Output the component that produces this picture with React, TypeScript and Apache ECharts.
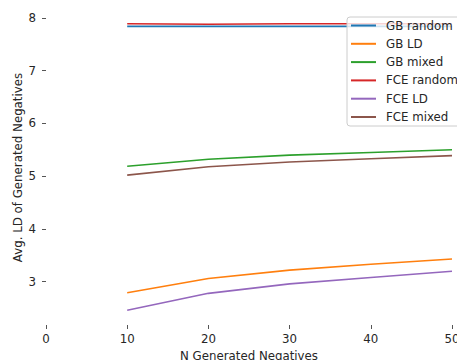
import React, { useEffect, useRef } from "react";
import * as echarts from "echarts";

const xValues = [10, 20, 30, 40, 50];
const gbRandom = [7.84, 7.84, 7.84, 7.84, 7.84];
const gbLD = [2.79, 3.06, 3.22, 3.33, 3.43];
const gbMixed = [5.19, 5.32, 5.40, 5.45, 5.50];
const fceRandom = [7.89, 7.88, 7.89, 7.89, 7.89];
const fceLD = [2.46, 2.78, 2.96, 3.08, 3.20];
const fceMixed = [5.02, 5.18, 5.27, 5.33, 5.39];
const yTicks = [3, 4, 5, 6, 7, 8];

const seriesDefs = [
  { name: "GB random", data: gbRandom, color: "#1f77b4" },
  { name: "GB LD", data: gbLD, color: "#ff7f0e" },
  { name: "GB mixed", data: gbMixed, color: "#2ca02c" },
  { name: "FCE random", data: fceRandom, color: "#d62728" },
  { name: "FCE LD", data: fceLD, color: "#9467bd" },
  { name: "FCE mixed", data: fceMixed, color: "#8c564b" },
];

const FONT = "DejaVu Sans";
const FS = 11.8;

export default function App() {
  const ref = useRef<HTMLDivElement>(null);
  useEffect(() => {
    const chart = echarts.init(ref.current!, null, { renderer: "svg" });
    chart.setOption({
      animation: false,
      backgroundColor: "#ffffff",
      textStyle: { fontFamily: FONT },
      grid: { left: 46, right: 5, top: 10, bottom: 35, containLabel: false, outerBoundsMode: "none" },
      xAxis: {
        type: "value",
        min: 0,
        max: 50,
        interval: 10,
        name: "N Generated Negatives",
        nameLocation: "middle",
        nameGap: 25,
        nameMoveOverlap: false,
        nameTextStyle: { fontFamily: FONT, fontSize: FS, color: "#262626" },
        axisLine: { show: false },
        axisTick: { show: true, length: 4, lineStyle: { color: "#555", width: 1 } },
        axisLabel: { margin: 8, fontFamily: FONT, fontSize: FS, color: "#262626" },
        splitLine: { show: false },
      },
      yAxis: {
        type: "value",
        min: 2.18,
        max: 8.15,
        name: "Avg. LD of Generated Negatives",
        nameLocation: "middle",
        nameGap: 22,
        nameMoveOverlap: false,
        nameTextStyle: { fontFamily: FONT, fontSize: FS, color: "#262626" },
        axisLine: { show: false },
        axisTick: { show: true, length: 4, customValues: yTicks, lineStyle: { color: "#555", width: 1 } },
        axisLabel: { margin: 10, customValues: yTicks, fontFamily: FONT, fontSize: FS, color: "#262626" },
        splitLine: { show: false },
      },
      legend: {
        orient: "vertical",
        left: 347,
        top: 17,
        icon: "rect",
        itemWidth: 25,
        itemHeight: 2,
        itemGap: 4.3,
        padding: [1.5, 8, 2, 4],
        backgroundColor: "rgba(255,255,255,0.8)",
        borderColor: "#cccccc",
        borderWidth: 1,
        borderRadius: 3,
        textStyle: { fontFamily: FONT, fontSize: FS, lineHeight: 14, color: "#262626", padding: [0, 0, 0, 5] },
        data: seriesDefs.map((s) => s.name),
      },
      series: seriesDefs.map((s) => ({
        name: s.name,
        type: "line",
        data: xValues.map((x, i) => [x, s.data[i]]),
        showSymbol: false,
        symbol: "none",
        lineStyle: { color: s.color, width: 1.6 },
        itemStyle: { color: s.color },
      })),
    });
    return () => chart.dispose();
  }, []);
  return <div ref={ref} style={{ width: 457, height: 360, position: "absolute", left: 0, top: 0 }} />;
}
